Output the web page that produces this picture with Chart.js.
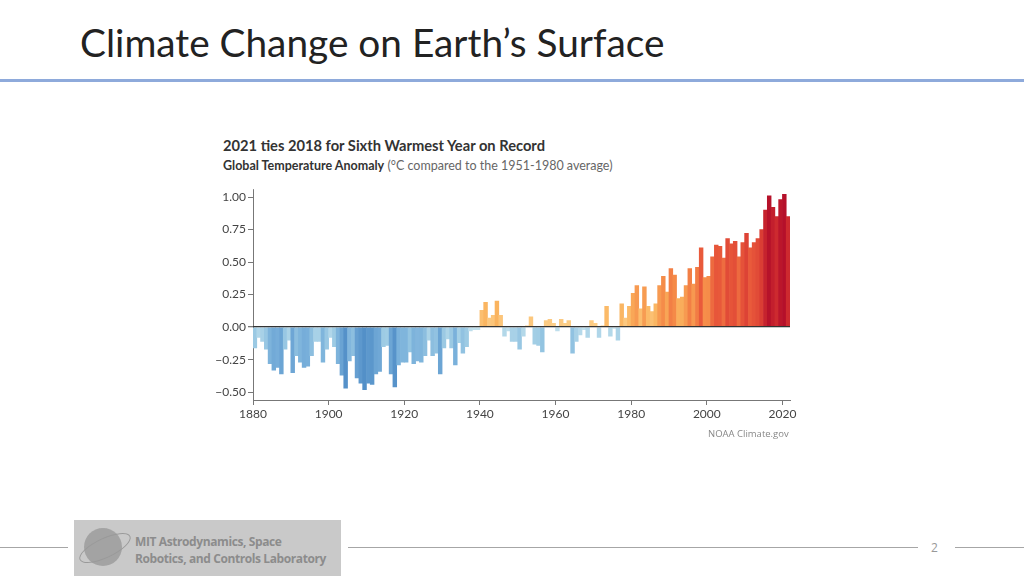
<!DOCTYPE html>
<html>
<head>
<meta charset="utf-8">
<script src="https://cdn.jsdelivr.net/npm/chart.js@4.4.1/dist/chart.umd.min.js"></script>
<style>
  html,body{margin:0;padding:0;background:#fff;}
  body{width:1024px;height:576px;position:relative;overflow:hidden;font-family:Lato,"Open Sans",sans-serif;}
  #title{position:absolute;left:80px;top:19px;font-family:Lato,sans-serif;font-size:38.8px;color:#222;white-space:nowrap;}
  #rule{position:absolute;left:0;top:79px;width:1024px;height:3px;background:#8eaadb;}
  #ctitle{position:absolute;left:223px;top:136px;font-family:Lato,sans-serif;font-weight:bold;font-size:14.7px;color:#333;white-space:nowrap;}
  #csub{position:absolute;left:223px;top:158px;font-family:Lato,sans-serif;font-size:12.5px;color:#666;white-space:nowrap;}
  #csub b{color:#333;}
  #wrap{position:absolute;left:200px;top:180px;width:600px;height:250px;}
  #src{position:absolute;left:708px;top:427px;font-family:"Open Sans",sans-serif;font-size:9.5px;color:#888;white-space:nowrap;}
  .fl{position:absolute;top:547px;height:1px;background:#a6a6a6;}
  #logo{position:absolute;left:74px;top:520px;width:267px;height:56px;background:#c9c9c9;}
  #logo .txt{position:absolute;left:61px;top:13px;font-family:"Open Sans",sans-serif;font-weight:bold;font-size:12px;line-height:17px;color:#8c8c8c;letter-spacing:-0.4px;white-space:nowrap;}
  #globe{position:absolute;left:10px;top:8px;width:38px;height:38px;border-radius:50%;background:#9a9a9a;opacity:0.8;}
  #orbit{position:absolute;left:3px;top:18px;width:54px;height:18px;border:1px solid #999;border-radius:50%;transform:rotate(-25deg);}
  #pnum{position:absolute;left:931px;top:539px;font-family:"Open Sans",sans-serif;font-size:12px;color:#999;}
</style>
</head>
<body>
<div id="title">Climate Change on Earth’s Surface</div>
<div id="rule"></div>
<div id="ctitle">2021 ties 2018 for Sixth Warmest Year on Record</div>
<div id="csub"><b>Global Temperature Anomaly</b> (°C compared to the 1951-1980 average)</div>
<div id="wrap"><canvas id="c" width="600" height="250"></canvas></div>
<div id="src">NOAA Climate.gov</div>
<div class="fl" style="left:0;width:68px;"></div>
<div class="fl" style="left:348px;width:570px;"></div>
<div class="fl" style="left:955px;width:69px;"></div>
<div id="logo"><div id="globe"></div><div id="orbit"></div><div class="txt">MIT Astrodynamics, Space<br>Robotics, and Controls Laboratory</div></div>
<div id="pnum">2</div>
<script>
const startYear = 1880;
const anomalies = [
 -0.16,-0.08,-0.11,-0.17,-0.28,-0.33,-0.31,-0.36,-0.17,-0.10,
 -0.35,-0.22,-0.27,-0.31,-0.30,-0.22,-0.11,-0.11,-0.27,-0.17,
 -0.08,-0.15,-0.28,-0.37,-0.47,-0.26,-0.22,-0.39,-0.43,-0.48,
 -0.43,-0.44,-0.36,-0.34,-0.15,-0.14,-0.36,-0.46,-0.29,-0.27,
 -0.27,-0.19,-0.28,-0.26,-0.27,-0.22,-0.10,-0.22,-0.20,-0.36,
 -0.16,-0.09,-0.16,-0.29,-0.12,-0.20,-0.15,-0.03,-0.02,-0.02,
  0.13, 0.19, 0.07, 0.09, 0.20, 0.09,-0.07,-0.03,-0.11,-0.11,
 -0.17,-0.07, 0.01, 0.08,-0.13,-0.14,-0.19, 0.05, 0.06, 0.03,
 -0.03, 0.06, 0.03, 0.05,-0.20,-0.11,-0.06,-0.02,-0.08, 0.05,
  0.03,-0.08, 0.01, 0.16,-0.07,-0.01,-0.10, 0.18, 0.07, 0.16,
  0.26, 0.32, 0.14, 0.31, 0.16, 0.12, 0.18, 0.32, 0.39, 0.27,
  0.45, 0.40, 0.22, 0.23, 0.32, 0.45, 0.33, 0.46, 0.61, 0.38,
  0.39, 0.54, 0.63, 0.62, 0.53, 0.68, 0.64, 0.66, 0.54, 0.65,
  0.72, 0.61, 0.65, 0.68, 0.75, 0.90, 1.01, 0.92, 0.85, 0.98,
  1.02, 0.85
];
const years = anomalies.map((_, i) => startYear + i);
const xTickLabels = [1880, 1900, 1920, 1940, 1960, 1980, 2000, 2020];
const yTickLabels = [-0.50, -0.25, 0.00, 0.25, 0.50, 0.75, 1.00];

function hex(h){return [parseInt(h.slice(1,3),16),parseInt(h.slice(3,5),16),parseInt(h.slice(5,7),16)];}
function interp(stops, v){
  for(let i=0;i<stops.length-1;i++){
    const [a,ca]=stops[i],[b,cb]=stops[i+1];
    if(v>=a && v<=b){
      const t=(v-a)/(b-a), A=hex(ca), B=hex(cb);
      return 'rgb('+A.map((x,k)=>Math.round(x+(B[k]-x)*t)).join(',')+')';
    }
  }
  return v<stops[0][0]?stops[0][1]:stops[stops.length-1][1];
}
const negStops=[[-0.5,'#4f8cc6'],[-0.3,'#78afda'],[-0.15,'#9dcbe4'],[0,'#c6e3ee']];
const posStops=[[0,'#fdd491'],[0.2,'#fab35e'],[0.4,'#f58a48'],[0.6,'#ea5c3b'],[0.8,'#d43231'],[1.02,'#b5102a']];
function colorFor(v){return v<0?interp(negStops,v):interp(posStops,v);}

new Chart(document.getElementById('c'), {
  type: 'bar',
  data: {
    datasets: [{
      data: years.map((y,i)=>({x:y+0.5, y:anomalies[i]})),
      backgroundColor: anomalies.map(colorFor),
      borderWidth: 0,
      barPercentage: 1.0,
      categoryPercentage: 1.0
    }]
  },
  options: {
    responsive: false,
    animation: false,
    layout: {padding: {top: 5, right: 10, left: 0, bottom: 0}},
    plugins: {legend: {display: false}, tooltip: {enabled: false}},
    scales: {
      x: {
        type: 'linear',
        offset: false,
        min: 1880, max: 2022,
        afterBuildTicks: s => { s.ticks = xTickLabels.map(v => ({value: v})); },
        afterFit: s => { s.height = 30; },
        ticks: {color: '#444', font: {family: 'Lato', size: 12}, padding: 2, maxRotation: 0,
                callback: v => String(v)},
        grid: {offset: false, drawOnChartArea: true, drawTicks: true, tickLength: 5,
               color: c => (c.tick && c.tick.value === 1880) ? '#777' : 'rgba(0,0,0,0)',
               tickColor: '#777'},
        border: {display: true, color: '#777', width: 1}
      },
      y: {
        min: -0.56, max: 1.06,
        afterBuildTicks: s => { s.ticks = yTickLabels.map(v => ({value: v})); },
        afterFit: s => { s.width = 53; },
        ticks: {color: '#444', font: {family: 'Lato', size: 12}, padding: 2,
                callback: v => (v < 0 ? '\u2212' : '') + Math.abs(v).toFixed(2)},
        grid: {offset: false, drawOnChartArea: true, drawTicks: true, tickLength: 5,
               color: c => (c.tick && c.tick.value === 0) ? '#333' : 'rgba(0,0,0,0)',
               tickColor: '#777', lineWidth: c => (c.tick && c.tick.value === 0) ? 1.3 : 1, z: 1},
        border: {display: false}
      }
    }
  }
});
</script>
</body>
</html>
